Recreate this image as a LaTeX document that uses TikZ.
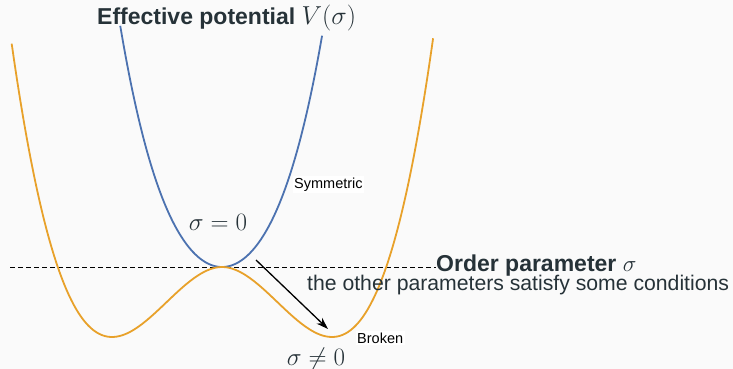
\RequirePackage{fix-cm}
\documentclass[tikz,border=0pt]{standalone}
\usepackage{amsmath}
\usepackage{amssymb}
\usepackage{fontspec}
\setmainfont{Liberation Sans}
\usepackage{tikz}
\usetikzlibrary{arrows.meta}

\definecolor{bgcol}{HTML}{FAFAFA}
\definecolor{slate}{HTML}{263238}
\definecolor{symblue}{HTML}{4C72B0}
\definecolor{brokorange}{HTML}{E8A12A}

\begin{document}
\begin{tikzpicture}[
    x=1pt, y=-1pt,
    >={Stealth[length=12pt, width=8pt]},
    curve/.style={line width=1.8pt, line join=round},
    title/.style={text=slate, font=\fontsize{23}{27}\selectfont\bfseries, inner sep=0pt, anchor=base west},
    note/.style={text=slate, font=\fontsize{21.2}{25}\selectfont, inner sep=0pt, anchor=base west},
    tag/.style={fill=white, text=black, font=\fontsize{14.5}{17}\selectfont, inner sep=1.5pt, anchor=base west},
    phase/.style={text=slate, font=\fontsize{25}{29}\selectfont, inner sep=0pt, anchor=base}
]

    % Canvas
    \fill[bgcol] (0,0) rectangle (733,369);
    \useasboundingbox (0,0) rectangle (733,369);

    % Order parameter axis
    \node[title] (order) at (436,271) {Order parameter {\mdseries$\sigma$}};
    \coordinate (axisstart) at (10,267);
    \draw[dash pattern=on 5pt off 3pt, line width=0.9pt] (axisstart) -- (axisstart -| order.west);

    % Symmetric phase
    \draw[curve, symblue] plot[domain=-0.925:0.911, samples=90, smooth]
        ({222+110*\x}, {267-210*\x*\x-84*\x*\x*\x*\x});

    % Broken phase
    \draw[curve, brokorange] plot[domain=-1.912:1.921, samples=150, smooth]
        ({222+110*\x}, {267+205.9*\x*\x-131.8*abs(\x)*\x*\x-4.1*\x*\x*\x*\x});

    % Labels
    \node[title] (effpot) at (97,25) {Effective potential {\mdseries\fontsize{26}{30}\selectfont$V(\sigma)$}};
    \node[note] (cond) at (307,290) {the other parameters satisfy some conditions};
    \node[tag] (sym) at (292.5,188) {Symmetric};
    \node[tag] (brk) at (355.5,343) {Broken};
    \node[phase] (zero) at (218,230) {$\sigma = 0$};
    \node[phase] (nonzero) at (316,365) {$\sigma \neq 0$};

    % Transition
    \coordinate (from) at (256,260);
    \coordinate (to) at (328,329);
    \draw[->, line width=1.3pt] (from) -- (to);

\end{tikzpicture}
\end{document}
